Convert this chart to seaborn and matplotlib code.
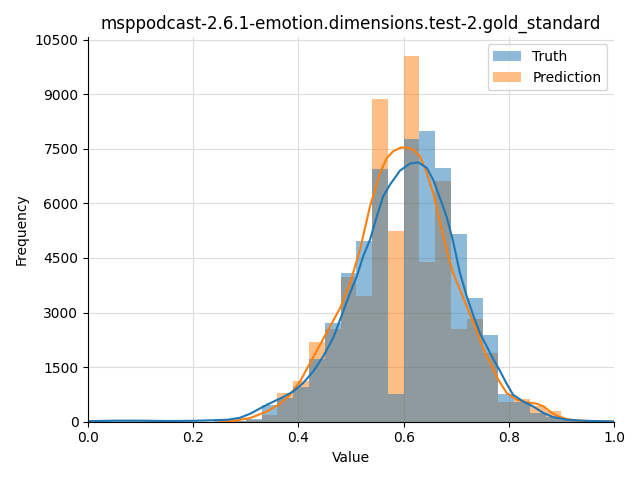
import numpy as np
import pandas as pd
import matplotlib
matplotlib.use("Agg")
import matplotlib.pyplot as plt
import seaborn as sns
from matplotlib.ticker import MultipleLocator

# histogram bins (width 0.03, from 0 to 0.99)
bin_edges = np.linspace(0, 0.99, 34)
bin_centers = (bin_edges[:-1] + bin_edges[1:]) / 2

truth_counts = [10, 15, 20, 15, 8, 5, 3, 5, 10, 30, 80, 450, 660, 950,
                1730, 2720, 4090, 4975, 6945, 770, 7780, 8000, 6980, 5170,
                3410, 2390, 770, 540, 230, 120, 40, 15, 5]
pred_counts = [0, 0, 0, 0, 0, 0, 0, 0, 5, 20, 50, 175, 800, 1127,
               2190, 2560, 3980, 3445, 8880, 5250, 10060, 4380, 6625, 2560,
               2820, 1900, 540, 620, 440, 300, 60, 20, 5]

# density curves (scaled to counts)
truth_kde_x = [0.0, 0.05, 0.1, 0.15, 0.2, 0.228, 0.266, 0.289, 0.308, 0.34,
               0.371, 0.39, 0.409, 0.428, 0.447, 0.466, 0.485, 0.498, 0.511,
               0.523, 0.536, 0.549, 0.561, 0.574, 0.593, 0.612, 0.628, 0.644,
               0.656, 0.669, 0.682, 0.694, 0.707, 0.72, 0.733, 0.745, 0.758,
               0.771, 0.783, 0.796, 0.808, 0.827, 0.846, 0.866, 0.884, 0.91,
               0.941, 0.992, 1.0]
truth_kde_y = [15, 30, 30, 20, 25, 36, 55, 110, 220, 467,
               679, 833, 1064, 1383, 1795, 2301, 3030, 3538, 3995,
               4544, 5003, 5644, 6194, 6515, 6900, 7093, 7128, 6974,
               6653, 6150, 5620, 4957, 4088, 3445, 2895, 2438, 2070,
               1704, 1400, 1040, 742, 558, 421, 239, 129, 55,
               27, 8, 6]
pred_kde_x = [0.25, 0.272, 0.308, 0.34, 0.365, 0.384, 0.403, 0.422, 0.441,
              0.46, 0.479, 0.498, 0.517, 0.536, 0.555, 0.568, 0.58, 0.593,
              0.603, 0.618, 0.631, 0.644, 0.656, 0.669, 0.682, 0.694, 0.707,
              0.72, 0.733, 0.745, 0.758, 0.771, 0.78, 0.796, 0.815, 0.834,
              0.853, 0.866, 0.878, 0.891, 0.91, 0.929, 0.954, 0.992, 1.0]
pred_kde_y = [5, 15, 100, 283, 495, 742, 1108, 1614, 2117,
              2620, 3120, 3800, 4728, 5919, 6837, 7249, 7431, 7524,
              7541, 7477, 7293, 6837, 6287, 5480, 4700, 4088, 3629,
              3170, 2713, 2254, 1795, 1429, 1155, 789, 605, 531,
              495, 421, 283, 165, 74, 36, 19, 8, 6]

title = "msppodcast-2.6.1-emotion.dimensions.test-2.gold_standard"

fig, ax = plt.subplots(figsize=(6.4, 4.8), dpi=100)

# prediction first so the truth bars sit on top (grey overlap)
sns.histplot(x=bin_centers, weights=pred_counts, bins=list(bin_edges),
             color="C1", alpha=0.5, linewidth=0, label="Prediction", ax=ax)
sns.histplot(x=bin_centers, weights=truth_counts, bins=list(bin_edges),
             color="C0", alpha=0.5, linewidth=0, label="Truth", ax=ax)
sns.lineplot(x=pred_kde_x, y=pred_kde_y, color="C1", linewidth=1.5, ax=ax)
sns.lineplot(x=truth_kde_x, y=truth_kde_y, color="C0", linewidth=1.5, ax=ax)

ax.set_xlim(0, 1)
ax.set_ylim(0, 10563)
ax.yaxis.set_major_locator(MultipleLocator(1500))
ax.grid(True, color="#dddddd", linewidth=0.8)
ax.set_axisbelow(True)
sns.despine(ax=ax)
ax.set_title(title)
ax.set_xlabel("Value")
ax.set_ylabel("Frequency")
handles, labels = ax.get_legend_handles_labels()
ax.legend(handles[::-1], labels[::-1], loc="upper right")
fig.tight_layout()
fig.savefig("out.png")
